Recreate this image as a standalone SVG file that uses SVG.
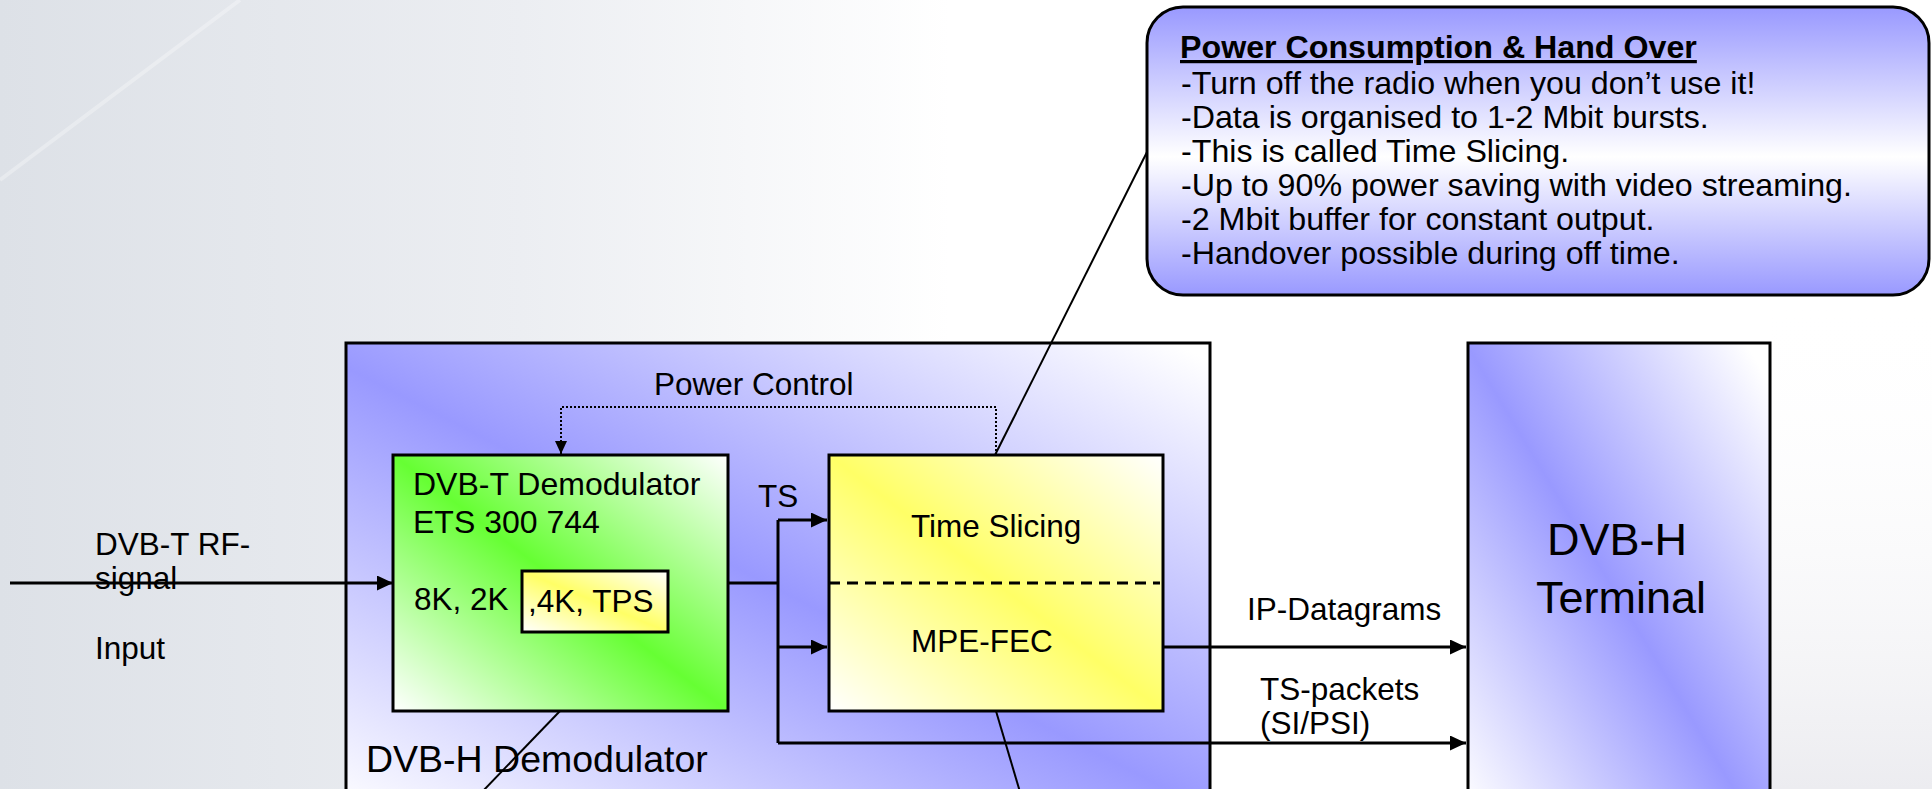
<svg xmlns="http://www.w3.org/2000/svg" width="1932" height="789" viewBox="0 0 1932 789">
  <style>
    text { font-family: "Liberation Sans", Arial, sans-serif; fill: #000; }
    .t { font-size: 31.5px; }
    .g { font-size: 32px; }
    .c { font-size: 32.2px; }
    .big { font-size: 37.5px; }
    .huge { font-size: 45px; }
    .box { stroke: #000; stroke-width: 3; }
    .conn { fill: none; stroke: #000; stroke-width: 3; }
    .thin { fill: none; stroke: #000; stroke-width: 2; }
  </style>
  <defs>
    <linearGradient id="bgLeft" x1="0" y1="0" x2="950" y2="0" gradientUnits="userSpaceOnUse">
      <stop offset="0" stop-color="#dde1e7"/>
      <stop offset="0.55" stop-color="#eceef2"/>
      <stop offset="1" stop-color="#ffffff"/>
    </linearGradient>
    <linearGradient id="bgRight" x1="0" y1="0" x2="0" y2="1">
      <stop offset="0" stop-color="#ffffff" stop-opacity="0"/>
      <stop offset="1" stop-color="#ececf0"/>
    </linearGradient>
    <linearGradient id="outerGrad" x1="577" y1="936" x2="943" y2="224" gradientUnits="userSpaceOnUse">
      <stop offset="0" stop-color="#ffffff"/>
      <stop offset="0.5" stop-color="#9999ff"/>
      <stop offset="1" stop-color="#ffffff"/>
    </linearGradient>
    <linearGradient id="termGrad" x1="1414" y1="724" x2="1826" y2="476" gradientUnits="userSpaceOnUse">
      <stop offset="0" stop-color="#ffffff"/>
      <stop offset="0.5" stop-color="#9999ff"/>
      <stop offset="1" stop-color="#ffffff"/>
    </linearGradient>
    <linearGradient id="greenGrad" x1="0" y1="1" x2="1" y2="0">
      <stop offset="0" stop-color="#ffffff"/>
      <stop offset="0.5" stop-color="#66ff33"/>
      <stop offset="1" stop-color="#ffffff"/>
    </linearGradient>
    <linearGradient id="yellowGrad" x1="0" y1="1" x2="1" y2="0">
      <stop offset="0" stop-color="#ffffff"/>
      <stop offset="0.5" stop-color="#ffff66"/>
      <stop offset="1" stop-color="#ffffff"/>
    </linearGradient>
    <linearGradient id="calloutGrad" x1="0" y1="0" x2="0" y2="1">
      <stop offset="0" stop-color="#9999ff"/>
      <stop offset="0.52" stop-color="#ffffff"/>
      <stop offset="1" stop-color="#9999ff"/>
    </linearGradient>
    <marker id="arr" markerWidth="16" markerHeight="15" refX="16" refY="7.5" orient="auto" markerUnits="userSpaceOnUse">
      <path d="M0,0 L16,7.5 L0,15 Z" fill="#000"/>
    </marker>
    <marker id="arrSmall" markerWidth="13" markerHeight="12" refX="13" refY="6" orient="auto" markerUnits="userSpaceOnUse">
      <path d="M0,0 L13,6 L0,12 Z" fill="#000"/>
    </marker>
  </defs>

  <!-- background -->
  <rect x="0" y="0" width="1932" height="789" fill="#ffffff"/>
  <rect x="0" y="0" width="950" height="789" fill="url(#bgLeft)"/>
  <rect x="1770" y="300" width="162" height="489" fill="url(#bgRight)"/>
  <line x1="240" y1="0" x2="0" y2="180" stroke="#ffffff" stroke-width="4" stroke-opacity="0.3"/>

  <!-- outer DVB-H Demodulator -->
  <g id="dvbh-demodulator">
    <rect class="box" x="346" y="343" width="864" height="500" fill="url(#outerGrad)"/>
    <text class="big" x="366" y="772">DVB-H Demodulator</text>
  </g>

  <!-- DVB-H Terminal -->
  <g id="dvbh-terminal">
    <rect class="box" x="1468" y="343" width="302" height="500" fill="url(#termGrad)"/>
    <text class="huge" x="1617" y="555" text-anchor="middle">DVB-H</text>
    <text class="huge" x="1621" y="613" text-anchor="middle">Terminal</text>
  </g>

  <!-- connectors -->
  <g id="connectors">
    <path class="conn" d="M10,583 H393" marker-end="url(#arr)"/>
    <path class="conn" d="M728,583 H778"/>
    <path class="conn" d="M778,520 V743"/>
    <path class="conn" d="M778,520 H827" marker-end="url(#arr)"/>
    <path class="conn" d="M778,647 H827" marker-end="url(#arr)"/>
    <path class="conn" d="M778,743 H1466" marker-end="url(#arr)"/>
    <path class="conn" d="M1163,647 H1466" marker-end="url(#arr)"/>
    <path class="thin" d="M996,455 V407 H561 V454" stroke-dasharray="2,2" marker-end="url(#arrSmall)"/>
    <line class="thin" x1="995" y1="455" x2="1148" y2="150"/>
    <line class="thin" x1="560" y1="711" x2="482" y2="792"/>
    <line class="thin" x1="996" y1="711" x2="1020" y2="792"/>
  </g>

  <!-- labels on connectors -->
  <g id="input-label">
    <text class="t" x="95" y="555">DVB-T RF-</text>
    <text class="t" x="95" y="589">signal</text>
    <text class="t" x="95" y="659">Input</text>
  </g>
  <g id="power-control-label">
    <text class="t" x="654" y="395">Power Control</text>
  </g>
  <g id="ts-label">
    <text class="t" x="758" y="507">TS</text>
  </g>
  <g id="ip-label">
    <text class="t" x="1247" y="620">IP-Datagrams</text>
  </g>
  <g id="tspackets-label">
    <text class="t" x="1260" y="700">TS-packets</text>
    <text class="t" x="1260" y="734">(SI/PSI)</text>
  </g>

  <!-- DVB-T Demodulator -->
  <g id="dvbt-demodulator">
    <rect class="box" x="393" y="455" width="335" height="256" fill="url(#greenGrad)"/>
    <text class="g" x="413" y="495">DVB-T Demodulator</text>
    <text class="g" x="413" y="533">ETS 300 744</text>
    <text class="t" x="414" y="610">8K, 2K</text>
  </g>
  <g id="dvbh-modes">
    <rect class="box" x="522" y="571" width="146" height="61" fill="url(#yellowGrad)"/>
    <text class="t" x="528" y="612">,4K, TPS</text>
  </g>

  <!-- Time Slicing / MPE-FEC -->
  <g id="timeslicing-mpefec">
    <rect class="box" x="829" y="455" width="334" height="256" fill="url(#yellowGrad)"/>
    <line x1="829" y1="583" x2="1160" y2="583" stroke="#000" stroke-width="3" stroke-dasharray="11,7"/>
    <text class="t" x="911" y="537">Time Slicing</text>
    <text class="t" x="911" y="652">MPE-FEC</text>
  </g>

  <!-- callout -->
  <g id="callout-power">
    <rect x="1147" y="7" width="782" height="288" rx="36" ry="36" fill="url(#calloutGrad)" stroke="#000" stroke-width="3"/>
    <text class="c" x="1180" y="58" font-weight="bold" text-decoration="underline">Power Consumption &amp; Hand Over</text>
    <text class="c" x="1181" y="94">-Turn off the radio when you don’t use it!</text>
    <text class="c" x="1181" y="128">-Data is organised to 1-2 Mbit bursts.</text>
    <text class="c" x="1181" y="162">-This is called Time Slicing.</text>
    <text class="c" x="1181" y="196">-Up to 90% power saving with video streaming.</text>
    <text class="c" x="1181" y="230">-2 Mbit buffer for constant output.</text>
    <text class="c" x="1181" y="264">-Handover possible during off time.</text>
  </g>
</svg>
